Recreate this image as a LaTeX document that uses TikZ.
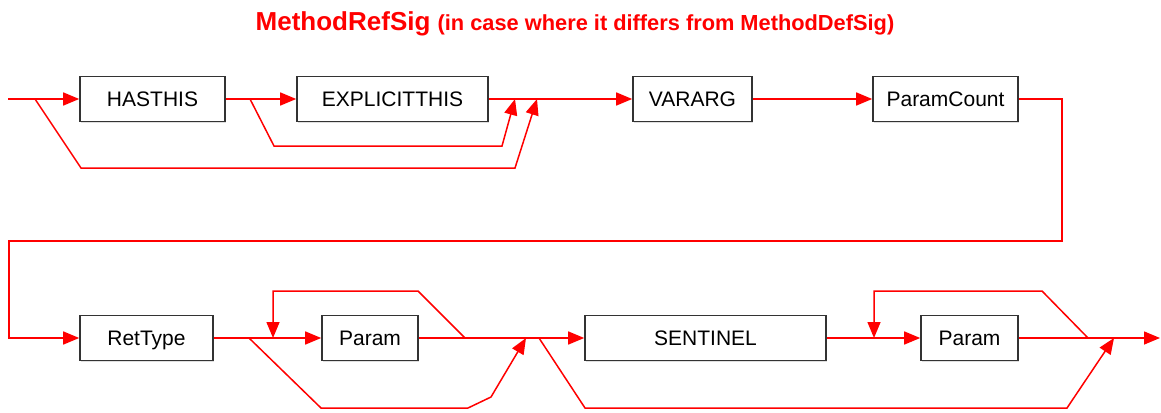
\documentclass[tikz,border=0pt]{standalone}
\usepackage{fontspec}
\setmainfont{Liberation Sans}
\usetikzlibrary{arrows.meta,shadows}
\definecolor{sLineCol}{rgb}{1, 0, 0}
\definecolor{sBoxCol}{rgb}{0.2, 0.2, 0.2}

\begin{document}
\begin{tikzpicture}[x=0.5pt,y=-0.5pt,
    sbox/.style={draw=sBoxCol,line width=0.8pt,fill=white,inner sep=0pt,
      minimum height=22.5pt,text height=7.6pt,text depth=0.4pt,
      font=\fontsize{10.5}{12}\selectfont,
      drop shadow={opacity=0.25,shadow xshift=0.6pt,shadow yshift=-0.6pt}},
    sline/.style={sLineCol,line width=0.75pt},
    sarrow/.style={sline,-{Triangle[length=8pt,width=6.5pt]}}]
%      \draw [help lines] (0, 0) grid (1161, 412);
      \useasboundingbox (0,0) rectangle (1161,412);
      \node [sLineCol,font=\bfseries,anchor=base] (title) at (575,30)
        {\fontsize{13}{15}\selectfont MethodRefSig
         \fontsize{10.9}{12}\selectfont (in case where it differs from MethodDefSig)};

      %% first row
      \node [sbox,minimum width=72.5pt] (hasthis) at (152.5,99) {HASTHIS};
      \node [sbox,minimum width=95.5pt] (explicit) at (392.5,99) {EXPLICITTHIS};
      \node [sbox,minimum width=59.5pt] (vararg) at (692.5,99) {VARARG};
      \node [sbox,minimum width=72.5pt] (pcount) at (945.5,99) {ParamCount};
      \coordinate (in) at (8,99);
      \coordinate (jA) at (35,99);
      \coordinate (jB) at (250,99);
      \coordinate (jC) at (515,99);
      \coordinate (jD) at (537,99);

      \draw [sarrow] (in) -- (hasthis);
      \draw [sarrow] (hasthis) -- (explicit);
      \draw [sarrow] (explicit) -- (vararg);
      \draw [sarrow] (vararg) -- (pcount);
      %% skip both flags, or only EXPLICITTHIS
      \draw [sarrow] (jA) -- (81,168) -- (515,168) -- (jD);
      \draw [sarrow] (jB) -- (274,146) -- (502,146) -- (jC);

      %% second row
      \node [sbox,minimum width=66.5pt] (rettype) at (146.5,338) {RetType};
      \node [sbox,minimum width=48pt] (param) at (370,338) {Param};
      \node [sbox,minimum width=120.5pt] (sentinel) at (705.5,338) {SENTINEL};
      \node [sbox,minimum width=48.5pt] (paramB) at (969.5,338) {Param};
      \coordinate (jE) at (249,338);
      \coordinate (jF) at (273,338);
      \coordinate (jG) at (465,338);
      \coordinate (jH) at (526,338);
      \coordinate (jI) at (539,338);
      \coordinate (jJ) at (874,338);
      \coordinate (jK) at (1088,338);
      \coordinate (jL) at (1114,338);
      \coordinate (out) at (1160,338);

      %% back to the start of the second row
      \draw [sarrow] (pcount) -- (1062,99) -- (1062,241) -- (9,241)
        -- (9,338) -- (rettype);

      \draw [sarrow] (rettype) -- (param);
      \draw [sarrow] (param) -- (sentinel);
      \draw [sarrow] (sentinel) -- (paramB);
      \draw [sarrow] (paramB) -- (out);
      %% loops for repeated Param
      \draw [sarrow] (jG) -- (418,291) -- (273,291) -- (jF);
      \draw [sarrow] (jK) -- (1042,291) -- (874,291) -- (jJ);
      %% bypasses
      \draw [sarrow] (jE) -- (321,408) -- (468,408) -- (491,397) -- (jH);
      \draw [sarrow] (jI) -- (585,408) -- (1067,408) -- (jL);
    \end{tikzpicture}
\end{document}
